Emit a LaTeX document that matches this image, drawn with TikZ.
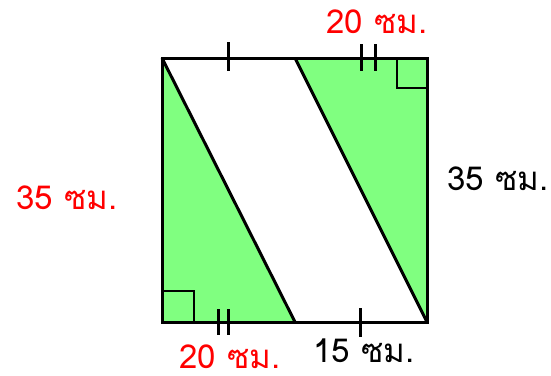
\documentclass[tikz,border=0pt]{standalone}
\usepackage{fontspec}
\setmainfont[Script=Thai]{Loma}
\definecolor{areagreen}{HTML}{80FF80}
\definecolor{given}{HTML}{FF0000}
\tikzset{
  edge/.style={draw=black,line width=3pt,line join=miter},
  tick/.style={draw=black,line width=3pt},
  corner/.style={draw=black,line width=1.6pt},
  redlabel/.style={text=given,font=\fontsize{33}{36}\selectfont,inner sep=0pt},
  blacklabel/.style={text=black,font=\fontsize{33}{36}\selectfont,inner sep=0pt}
}
\begin{document}
\begin{tikzpicture}[x=1pt,y=-1pt]
  \useasboundingbox (0,0) rectangle (551,375);

  \coordinate (tl) at (162,58);
  \coordinate (tr) at (427,58);
  \coordinate (bl) at (162,322);
  \coordinate (br) at (427,322);
  \coordinate (tm) at (295,58);
  \coordinate (bm) at (295,322);

  % green triangles
  \fill[areagreen] (tl) -- (bm) -- (bl) -- cycle;
  \fill[areagreen] (tm) -- (tr) -- (br) -- cycle;

  % right-angle marks
  \draw[corner] (397,58) |- (427,88);
  \draw[corner] (162,291) -| (194,322);

  % slanted cuts
  \draw[edge] (tl) -- (bm);
  \draw[edge] (tm) -- (br);
  \draw[edge] (tl) rectangle (br);

  % equal-length ticks
  \draw[tick] (228,42) -- (228,71);
  \draw[tick] (361,44) -- (361,71);
  \draw[tick] (375,44) -- (375,71);
  \draw[tick] (218,309) -- (218,335);
  \draw[tick] (228,309) -- (228,335);
  \draw[tick] (360,308) -- (360,337);

  \node[redlabel] (top) at (377,22) {20 ซม.};
  \node[redlabel] (left) at (67,198) {35 ซม.};
  \node[blacklabel] (right) at (498,179) {35 ซม.};
  \node[redlabel] (bottom) at (230,357) {20 ซม.};
  \node[blacklabel] (part) at (364,351) {15 ซม.};
\end{tikzpicture}
\end{document}
